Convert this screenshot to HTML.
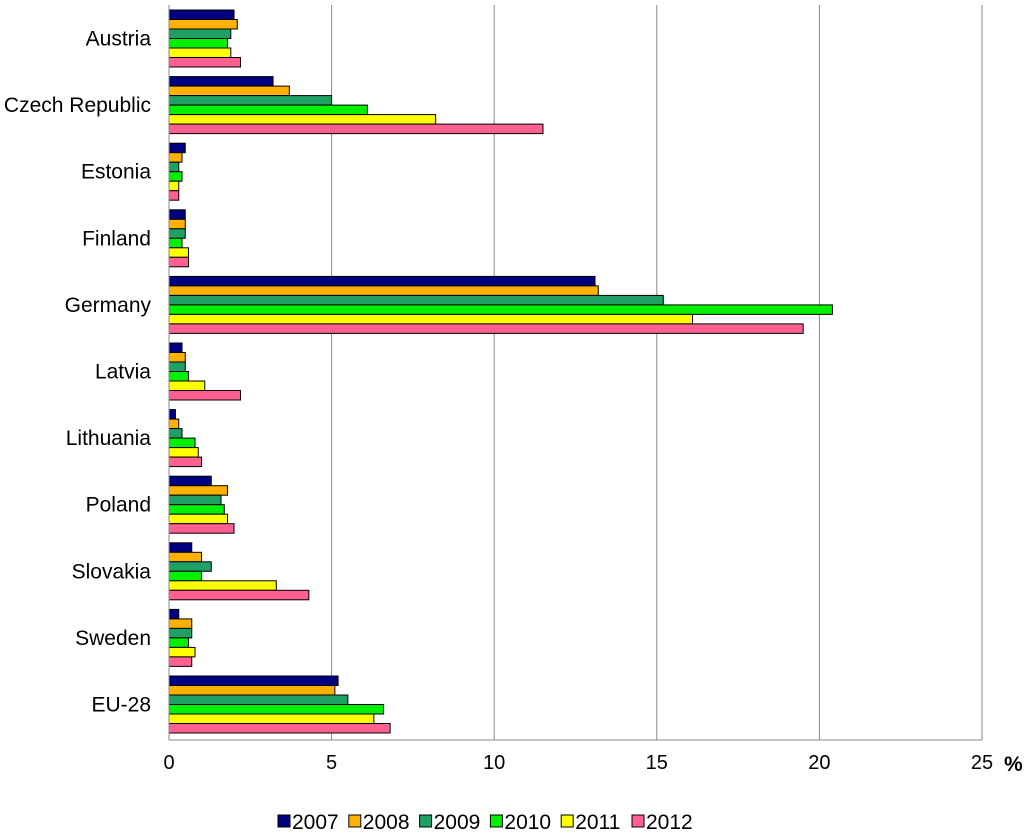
<!DOCTYPE html>
<html><head><meta charset="utf-8"><style>
body{margin:0;background:#fff;}
svg text{font-family:"Liberation Sans",Arial,sans-serif;}
</style></head><body>
<svg id="chart" width="1024" height="834" xmlns="http://www.w3.org/2000/svg"></svg>
<script>
const categories=["Austria","Czech Republic","Estonia","Finland","Germany","Latvia","Lithuania","Poland","Slovakia","Sweden","EU-28"];
const years=["2007","2008","2009","2010","2011","2012"];
const s2007=[2.0,3.2,0.5,0.5,13.1,0.4,0.2,1.3,0.7,0.3,5.2];
const s2008=[2.1,3.7,0.4,0.5,13.2,0.5,0.3,1.8,1.0,0.7,5.1];
const s2009=[1.9,5.0,0.3,0.5,15.2,0.5,0.4,1.6,1.3,0.7,5.5];
const s2010=[1.8,6.1,0.4,0.4,20.4,0.6,0.8,1.7,1.0,0.6,6.6];
const s2011=[1.9,8.2,0.3,0.6,16.1,1.1,0.9,1.8,3.3,0.8,6.3];
const s2012=[2.2,11.5,0.3,0.6,19.5,2.2,1.0,2.0,4.3,0.7,6.8];
const xTicks=[0,5,10,15,20,25];
const series=[s2007,s2008,s2009,s2010,s2011,s2012];
const colors=["#000080","#FFB000","#1FA064","#00F000","#FFFF00","#FF6090"];
const svg=document.getElementById('chart');
const NS="http://www.w3.org/2000/svg";
const x0=169,x1=982,yTop=5,yBot=740;
const xs=v=>x0+(v/25)*(x1-x0);
const pitch=66.6;
const bh=9.5;
function el(t,a){const e=document.createElementNS(NS,t);for(const k in a)e.setAttribute(k,a[k]);svg.appendChild(e);return e;}
xTicks.forEach(t=>{
  if(t>0){const g=el('line',{x1:xs(t),x2:xs(t),y1:yTop,y2:yBot,stroke:'#888','stroke-width':1});
  
  }
  const tx=el('text',{x:xs(t),y:769,'text-anchor':'middle','font-size':20});
  tx.textContent=t;
  
  
});
const pct=el('text',{x:1004,y:771,'font-size':21,'font-weight':'bold'});pct.textContent='%';


categories.forEach((c,i)=>{
  const gy=10+i*pitch;
  series.forEach((s,j)=>{
    const r=el('rect',{x:x0,y:gy+j*bh,width:xs(s[i])-x0,height:bh,fill:colors[j],stroke:'#000','stroke-width':1});
    
    
  });
  const t=el('text',{x:151,y:gy+3*bh+7,'text-anchor':'end','font-size':21});
  t.textContent=c;
  
  
});
const ax=el('line',{x1:x0,x2:x0,y1:yTop,y2:yBot,stroke:'#888','stroke-width':1});


const bx=el('line',{x1:x0,x2:x1,y1:yBot,y2:yBot,stroke:'#888','stroke-width':1});


years.forEach((y,j)=>{
  const lx=278+j*70.8;
  const r=el('rect',{x:lx,y:815,width:12,height:12,fill:colors[j],stroke:'#000','stroke-width':1});
  
  
  const t=el('text',{x:lx+14,y:829,'font-size':21});
  t.textContent=y;
  
  
});
</script>
</body></html>
